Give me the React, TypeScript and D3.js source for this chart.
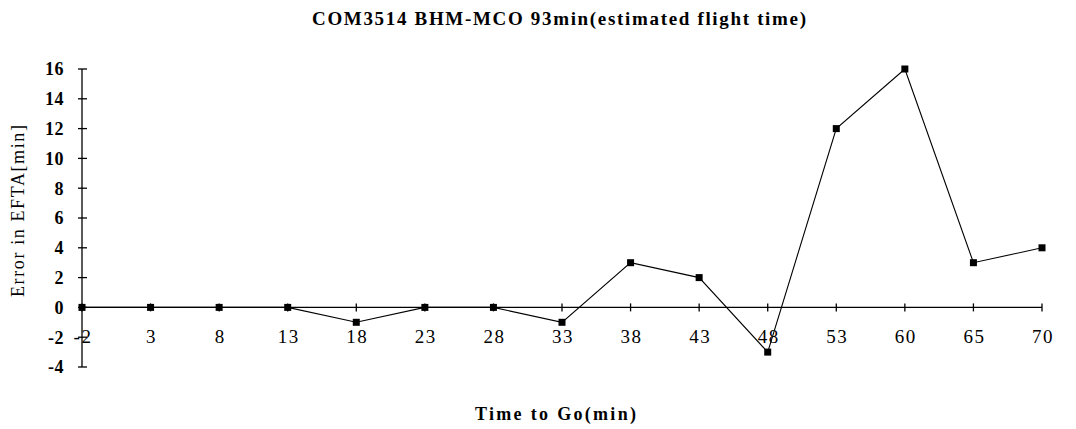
import React from "react";
import * as d3 from "d3";

const categories = ["-2", "3", "8", "13", "18", "23", "28", "33", "38", "43", "48", "53", "60", "65", "70"];
const errorValues = [0, 0, 0, 0, -1, 0, 0, -1, 3, 2, -3, 12, 16, 3, 4];
const yTicks = [-4, -2, 0, 2, 4, 6, 8, 10, 12, 14, 16];
const titleText = "COM3514 BHM-MCO 93min(estimated flight time)";
const xTitle = "Time to Go(min)";
const yTitle = "Error in EFTA[min]";

export default function App() {
  const W = 1076, H = 429;
  const x = d3.scalePoint<string>().domain(categories).range([82, 1042]);
  const y = d3.scaleLinear().domain([-4, 16]).range([367, 69]);
  const line = d3.line<number>()
    .x((_, i) => x(categories[i]) as number)
    .y((d) => y(d));
  const font = "'Liberation Serif', 'Times New Roman', serif";
  return (
    <svg width={W} height={H} style={{ position: "absolute", left: 0, top: 0, background: "#fff" }} fontFamily={font}>
      <rect width={W} height={H} fill="#fff" />
      <text x={312} y={25} fontSize={19} fontWeight="bold" textLength={494} lengthAdjust="spacing">{titleText}</text>
      {/* y axis */}
      <line x1={82} x2={82} y1={y(16)} y2={y(-4)} stroke="#000" strokeWidth={1.3} />
      {yTicks.map((t) => (
        <g key={t}>
          <line x1={78} x2={87} y1={y(t)} y2={y(t)} stroke="#000" strokeWidth={1.3} />
          <text x={64} y={y(t)} dy="0.36em" textAnchor="end" fontSize={18} fontWeight="bold" letterSpacing={0.5}>{t}</text>
        </g>
      ))}
      {/* x axis at y=0 */}
      <line x1={82} x2={1042} y1={y(0)} y2={y(0)} stroke="#000" strokeWidth={1.3} />
      {categories.map((c) => (
        <g key={c}>
          <line x1={x(c)} x2={x(c)} y1={y(0) - 4} y2={y(0) + 4} stroke="#000" strokeWidth={1.3} />
          <text x={(x(c) as number) + 1} y={343} textAnchor="middle" fontSize={19} letterSpacing={1.5}>{c}</text>
        </g>
      ))}
      <path d={line(errorValues) || ""} fill="none" stroke="#000" strokeWidth={1.1} />
      {errorValues.map((v, i) => (
        <rect key={i} x={(x(categories[i]) as number) - 3.5} y={y(v) - 3.5} width={7} height={7} fill="#000" />
      ))}
      <text x={475} y={420} fontSize={18} fontWeight="bold" textLength={161} lengthAdjust="spacing">{xTitle}</text>
      <text transform={`translate(24,297) rotate(-90)`} fontSize={18} textLength={172} lengthAdjust="spacing">{yTitle}</text>
    </svg>
  );
}
